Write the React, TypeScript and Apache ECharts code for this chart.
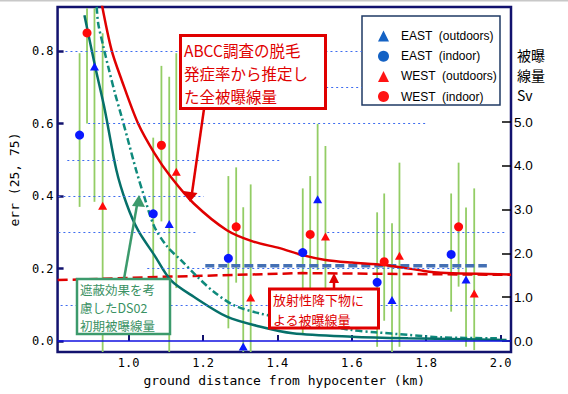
import React, { useEffect, useRef } from "react";
import * as echarts from "echarts";

// ---- axis ranges and ticks ----
const X_MIN = 0.8088;
const X_MAX = 2.0279;
const ERR_MIN = -0.0303;
const ERR_MAX = 0.9214;
const SV_MIN = -0.2511;
const SV_MAX = 7.6256;
const xTicks = [1.0, 1.2, 1.4, 1.6, 1.8, 2.0];
const errTicks = [0.0, 0.2, 0.4, 0.6, 0.8];
const svTicks = [0, 1, 2, 3, 4, 5];

// ---- observed points: distance (km), err (25,75) ----
const eastOutDist = [0.908, 1.109, 1.308, 1.508, 1.708, 1.907];
const eastOutErr = [0.757, 0.323, -0.015, 0.391, 0.113, 0.17];
const eastOutLow = [0.384, -0.04, -0.04, 0.196, -0.04, -0.016];
const eastOutHigh = [0.918, 0.729, 0.369, 0.599, 0.325, 0.368];

const eastInDist = [0.868, 1.066, 1.268, 1.468, 1.668, 1.867];
const eastInErr = [0.568, 0.351, 0.228, 0.244, 0.162, 0.239];
const eastInLow = [0.37, 0.16, 0.035, 0.022, -0.016, 0.081];
const eastInHigh = [0.794, 0.561, 0.455, 0.421, 0.355, 0.407];

const westOutDist = [0.93, 1.128, 1.328, 1.529, 1.728, 1.929];
const westOutErr = [0.373, 0.467, 0.12, 0.288, 0.235, 0.131];
const westOutLow = [-0.04, 0.146, -0.04, 0.04, -0.016, -0.025];
const westOutHigh = [0.849, 0.794, 0.432, 0.538, 0.492, 0.421];

const westInDist = [0.888, 1.088, 1.289, 1.488, 1.687, 1.887];
const westInErr = [0.85, 0.54, 0.315, 0.294, 0.219, 0.315];
const westInLow = [0.6, 0.33, 0.161, 0.13, 0.056, 0.15];
const westInHigh = [0.918, 0.759, 0.479, 0.455, 0.407, 0.492];

// ---- dose curves (Sv, right axis) ----
const totalDist = [0.927, 0.954, 0.981, 1.025, 1.069, 1.113, 1.175, 1.264, 1.335, 1.406, 1.467, 1.529, 1.6, 1.687, 1.794, 1.839, 2.025];
const totalSv = [7.72, 6.64, 5.96, 4.97, 4.29, 3.75, 3.14, 2.53, 2.27, 2.12, 1.96, 1.85, 1.79, 1.735, 1.6, 1.56, 1.52];

const ds02Dist = [0.881, 0.91, 0.936, 0.967, 0.994, 1.025, 1.069, 1.113, 1.175, 1.264, 1.352, 1.441, 1.6, 1.751, 2.016];
const ds02Sv = [7.44, 6.26, 5.27, 3.9, 3.14, 2.53, 1.96, 1.39, 1.01, 0.555, 0.33, 0.176, 0.098, 0.062, 0.023];

const ds02bDist = [0.914, 0.918, 0.932, 0.945, 0.963, 0.981, 0.998, 1.02, 1.042, 1.069, 1.104, 1.14, 1.184, 1.228, 1.282, 1.352, 1.441, 1.6, 1.662, 1.751, 1.839, 1.99];
const ds02bSv = [7.63, 7.25, 6.72, 6.26, 5.66, 5.12, 4.59, 3.9, 3.29, 2.61, 2.15, 1.85, 1.47, 1.13, 0.82, 0.63, 0.48, 0.25, 0.2, 0.14, 0.084, 0.062];

const falloutDist = [0.809, 1.113, 1.467, 2.028];
const falloutSv = [1.39, 1.47, 1.55, 1.51];

const thresholdDist = [1.206, 1.963];
const thresholdSv = [1.72, 1.72];

// ---- dotted reference segments (err level, from, to) ----
const gridLevel = [0.8, 0.7, 0.6, 0.5, 0.5, 0.5, 0.4, 0.4, 0.3, 0.3, 0.2, 0.1];
const gridFrom = [0.83, 1.531, 0.891, 0.835, 1.117, 1.839, 0.811, 1.927, 0.811, 1.534, 1.05, 0.817];
const gridTo = [1.627, 1.627, 1.805, 0.971, 1.406, 2.028, 1.202, 2.028, 1.183, 2.017, 1.9, 2.02];

const BLUE = "#0a18ff";
const RED = "#ff0a0a";
const mono = '"DejaVu Sans Mono", monospace';
const sans = '"Liberation Sans", Arial, sans-serif';
const cjk = '"Noto Sans CJK JP", sans-serif';

const zip = (a: number[], b: number[]) => a.map((v, i) => [v, b[i]]);
const bars = (d: number[], lo: number[], hi: number[]) => d.map((v, i) => [v, lo[i], hi[i]]);

function buildOption() {
  const errBarData = [
    ...bars(eastOutDist, eastOutLow, eastOutHigh),
    ...bars(eastInDist, eastInLow, eastInHigh),
    ...bars(westOutDist, westOutLow, westOutHigh),
    ...bars(westInDist, westInLow, westInHigh),
  ];
  const gridLines: any[] = gridLevel.map((lv, i) => [
    { coord: [gridFrom[i], lv] },
    { coord: [gridTo[i], lv] },
  ]);
  gridLines.push([
    { coord: [X_MIN, 0], lineStyle: { color: "#1010e0", width: 1.5, type: "solid" } },
    { coord: [X_MAX, 0] },
  ]);

  const navy = "#12126e";

  return {
    animation: false,
    backgroundColor: "#ffffff",
    grid: {
      left: 52,
      right: 57,
      top: 7,
      bottom: 42,
      show: true,
      borderColor: navy,
      borderWidth: 2.5,
      backgroundColor: "transparent",
    },
    xAxis: {
      type: "value",
      min: X_MIN,
      max: X_MAX,
      axisLine: { show: false },
      splitLine: { show: false },
      axisTick: { inside: true, length: 6, customValues: xTicks, lineStyle: { color: navy, width: 2 } },
      axisLabel: {
        customValues: xTicks,
        formatter: (v: number) => v.toFixed(1),
        margin: 5,
        fontFamily: mono,
        fontSize: 12,
        color: "#000",
      },
      name: "ground distance from hypocenter (km)",
      nameLocation: "middle",
      nameGap: 22,
      nameTextStyle: { fontFamily: mono, fontSize: 13, color: "#000" },
    },
    yAxis: [
      {
        type: "value",
        position: "left",
        min: ERR_MIN,
        max: ERR_MAX,
        axisLine: { show: false },
        splitLine: { show: false },
        axisTick: { inside: true, length: 6, customValues: errTicks, lineStyle: { color: navy, width: 2.5 } },
        axisLabel: {
          customValues: errTicks,
          formatter: (v: number) => v.toFixed(1),
          margin: 4,
          fontFamily: mono,
          fontSize: 12,
          color: "#000",
        },
        name: "err (25, 75)",
        nameLocation: "middle",
        nameRotate: 90,
        nameGap: 31,
        nameTextStyle: { fontFamily: mono, fontSize: 13, color: "#000" },
      },
      {
        type: "value",
        position: "right",
        min: SV_MIN,
        max: SV_MAX,
        axisLine: { show: false },
        splitLine: { show: false },
        axisTick: { inside: true, length: 9, customValues: svTicks, lineStyle: { color: "#000", width: 1.5 } },
        axisLabel: {
          customValues: svTicks,
          formatter: (v: number) => v.toFixed(1),
          margin: 3,
          fontFamily: sans,
          fontSize: 13.5,
          color: "#000",
        },
      },
    ],
    legend: {
      data: [
        { name: "EAST  (outdoors)", itemStyle: { color: "#1462c4", opacity: 1 } },
        { name: "EAST  (indoor)", itemStyle: { color: "#1462c4", opacity: 1 } },
        { name: "WEST  (outdoors)", itemStyle: { color: "#ff1414", opacity: 1 } },
        { name: "WEST  (indoor)", itemStyle: { color: "#ff1414", opacity: 1 } },
      ],
      orient: "vertical",
      left: 373,
      top: 25,
      itemWidth: 11,
      itemHeight: 11,
      itemGap: 8.2,
      selectedMode: false,
      textStyle: {
        fontFamily: sans,
        fontSize: 12,
        color: "#000",
        lineHeight: 11.5,
        padding: [0, 0, 0, 7],
      },
    },
    series: [
      {
        type: "line",
        name: "grid",
        yAxisIndex: 0,
        data: [[1.0, 0]],
        symbol: "none",
        lineStyle: { width: 0 },
        silent: true,
        z: 0,
        markLine: {
          silent: true,
          symbol: ["none", "none"],
          label: { show: false },
          lineStyle: { color: "#3d6cf0", width: 1, type: [2, 3] },
          data: gridLines,
        },
      },
      {
        type: "custom",
        name: "errbars",
        yAxisIndex: 0,
        z: 1,
        silent: true,
        data: errBarData,
        encode: { x: 0, y: [1, 2] },
        renderItem: (_p: any, api: any) => {
          const x = api.value(0);
          const lo = Math.max(api.value(1), ERR_MIN);
          const hi = Math.min(api.value(2), ERR_MAX);
          const a = api.coord([x, lo]);
          const b = api.coord([x, hi]);
          return {
            type: "line",
            shape: { x1: a[0], y1: a[1], x2: b[0], y2: b[1] },
            style: { stroke: "#93cd65", lineWidth: 1.8 },
          };
        },
      },
      {
        type: "line",
        name: "fallout",
        yAxisIndex: 1,
        data: zip(falloutDist, falloutSv),
        showSymbol: false,
        symbol: "none",
        z: 2,
        lineStyle: { color: "#e00000", width: 2.5, type: [10, 5] },
      },
      {
        type: "line",
        name: "threshold",
        yAxisIndex: 1,
        data: zip(thresholdDist, thresholdSv),
        symbol: "none",
        z: 2,
        lineStyle: { color: "#4470b4", width: 3.5, type: [9, 4] },
      },
      {
        type: "line",
        name: "ds02b",
        yAxisIndex: 1,
        data: zip(ds02bDist, ds02bSv),
        symbol: "none",
        smooth: 0.3,
        z: 2,
        lineStyle: { color: "#0f8a7c", width: 2.5, type: [7, 3, 2, 3] },
      },
      {
        type: "line",
        name: "ds02",
        yAxisIndex: 1,
        data: zip(ds02Dist, ds02Sv),
        symbol: "none",
        smooth: 0.3,
        z: 2,
        lineStyle: { color: "#06706a", width: 2.5 },
      },
      {
        type: "line",
        name: "total",
        yAxisIndex: 1,
        data: zip(totalDist, totalSv),
        symbol: "none",
        smooth: 0.3,
        z: 2,
        lineStyle: { color: "#e00000", width: 2.5 },
      },
      {
        type: "scatter",
        name: "EAST  (outdoors)",
        yAxisIndex: 0,
        data: zip(eastOutDist, eastOutErr),
        symbol: "triangle",
        symbolSize: [9, 8],
        itemStyle: { color: BLUE, opacity: 1 },
        z: 3,
      },
      {
        type: "scatter",
        name: "EAST  (indoor)",
        yAxisIndex: 0,
        data: zip(eastInDist, eastInErr),
        symbol: "circle",
        symbolSize: 9,
        itemStyle: { color: BLUE, opacity: 1 },
        z: 3,
      },
      {
        type: "scatter",
        name: "WEST  (outdoors)",
        yAxisIndex: 0,
        data: zip(westOutDist, westOutErr),
        symbol: "triangle",
        symbolSize: [9, 8],
        itemStyle: { color: RED, opacity: 1 },
        z: 3,
      },
      {
        type: "scatter",
        name: "WEST  (indoor)",
        yAxisIndex: 0,
        data: zip(westInDist, westInErr),
        symbol: "circle",
        symbolSize: 9,
        itemStyle: { color: RED, opacity: 1 },
        z: 3,
      },
    ],
    graphic: [
      { type: "rect", z: 0, shape: { x: 0, y: 0, width: 568, height: 1.5 }, style: { fill: "#c8c8c8" } },
      // legend frame
      {
        type: "rect",
        z: 3,
        shape: { x: 362, y: 16, width: 138, height: 89 },
        style: { fill: "#fff", stroke: "#1f3a64", lineWidth: 1.5 },
      },
      // right axis title
      {
        type: "text",
        z: 5,
        x: 517,
        y: 45,
        style: { text: "被曝\n線量\nSv", font: `14px ${cjk}`, lineHeight: 20, fill: "#000" },
      },
      // ABCC annotation
      {
        type: "line",
        z: 10,
        shape: { x1: 204, y1: 109, x2: 192, y2: 193 },
        style: { stroke: "#e00000", lineWidth: 2.5 },
      },
      {
        type: "polygon",
        z: 10,
        shape: { points: [[183.5, 191], [197.5, 193], [190, 202]] },
        style: { fill: "#e00000" },
      },
      {
        type: "rect",
        z: 10,
        shape: { x: 180.5, y: 35.5, width: 145, height: 73 },
        style: { fill: "#fff", stroke: "#e00000", lineWidth: 3 },
      },
      {
        type: "text",
        z: 11,
        x: 184,
        y: 38,
        style: {
          text: "ABCC調査の脱毛\n発症率から推定し\nた全被曝線量",
          font: `15.5px ${cjk}`,
          lineHeight: 23,
          fill: "#e00000",
        },
      },
      // DS02 annotation
      {
        type: "line",
        z: 10,
        shape: { x1: 124, y1: 279, x2: 137, y2: 205 },
        style: { stroke: "#3c9a6c", lineWidth: 2.5 },
      },
      {
        type: "polygon",
        z: 10,
        shape: { points: [[132, 206], [145, 207], [139, 195]] },
        style: { fill: "#3c9a6c" },
      },
      {
        type: "rect",
        z: 10,
        shape: { x: 77, y: 279, width: 93, height: 55 },
        style: { fill: "#fff", stroke: "#3c9a6c", lineWidth: 2.5 },
      },
      {
        type: "text",
        z: 11,
        x: 80,
        y: 280,
        style: {
          text: "遮蔽効果を考\n慮したDS02\n初期被曝線量",
          font: `12.5px ${cjk}`,
          lineHeight: 18.2,
          fill: "#3a9163",
        },
      },
      // fallout annotation
      {
        type: "line",
        z: 10,
        shape: { x1: 334, y1: 289, x2: 334, y2: 281 },
        style: { stroke: "#e00000", lineWidth: 2.5 },
      },
      {
        type: "polygon",
        z: 10,
        shape: { points: [[329, 283], [339, 283], [334, 273]] },
        style: { fill: "#e00000" },
      },
      {
        type: "rect",
        z: 10,
        shape: { x: 269.5, y: 289, width: 109, height: 39 },
        style: { fill: "#fff", stroke: "#e00000", lineWidth: 3 },
      },
      {
        type: "text",
        z: 11,
        x: 273,
        y: 289,
        style: {
          text: "放射性降下物に\nよる被曝線量",
          font: `13px ${cjk}`,
          lineHeight: 20,
          fill: "#e00000",
        },
      },
    ],
  };
}

export default function App() {
  const ref = useRef<HTMLDivElement>(null);
  useEffect(() => {
    if (!ref.current) return;
    const chart = echarts.init(ref.current, null, { renderer: "svg" });
    chart.setOption(buildOption() as any);
    return () => chart.dispose();
  }, []);
  return (
    <div
      ref={ref}
      style={{ position: "absolute", left: 0, top: 0, width: 568, height: 394, background: "#fff" }}
    />
  );
}
